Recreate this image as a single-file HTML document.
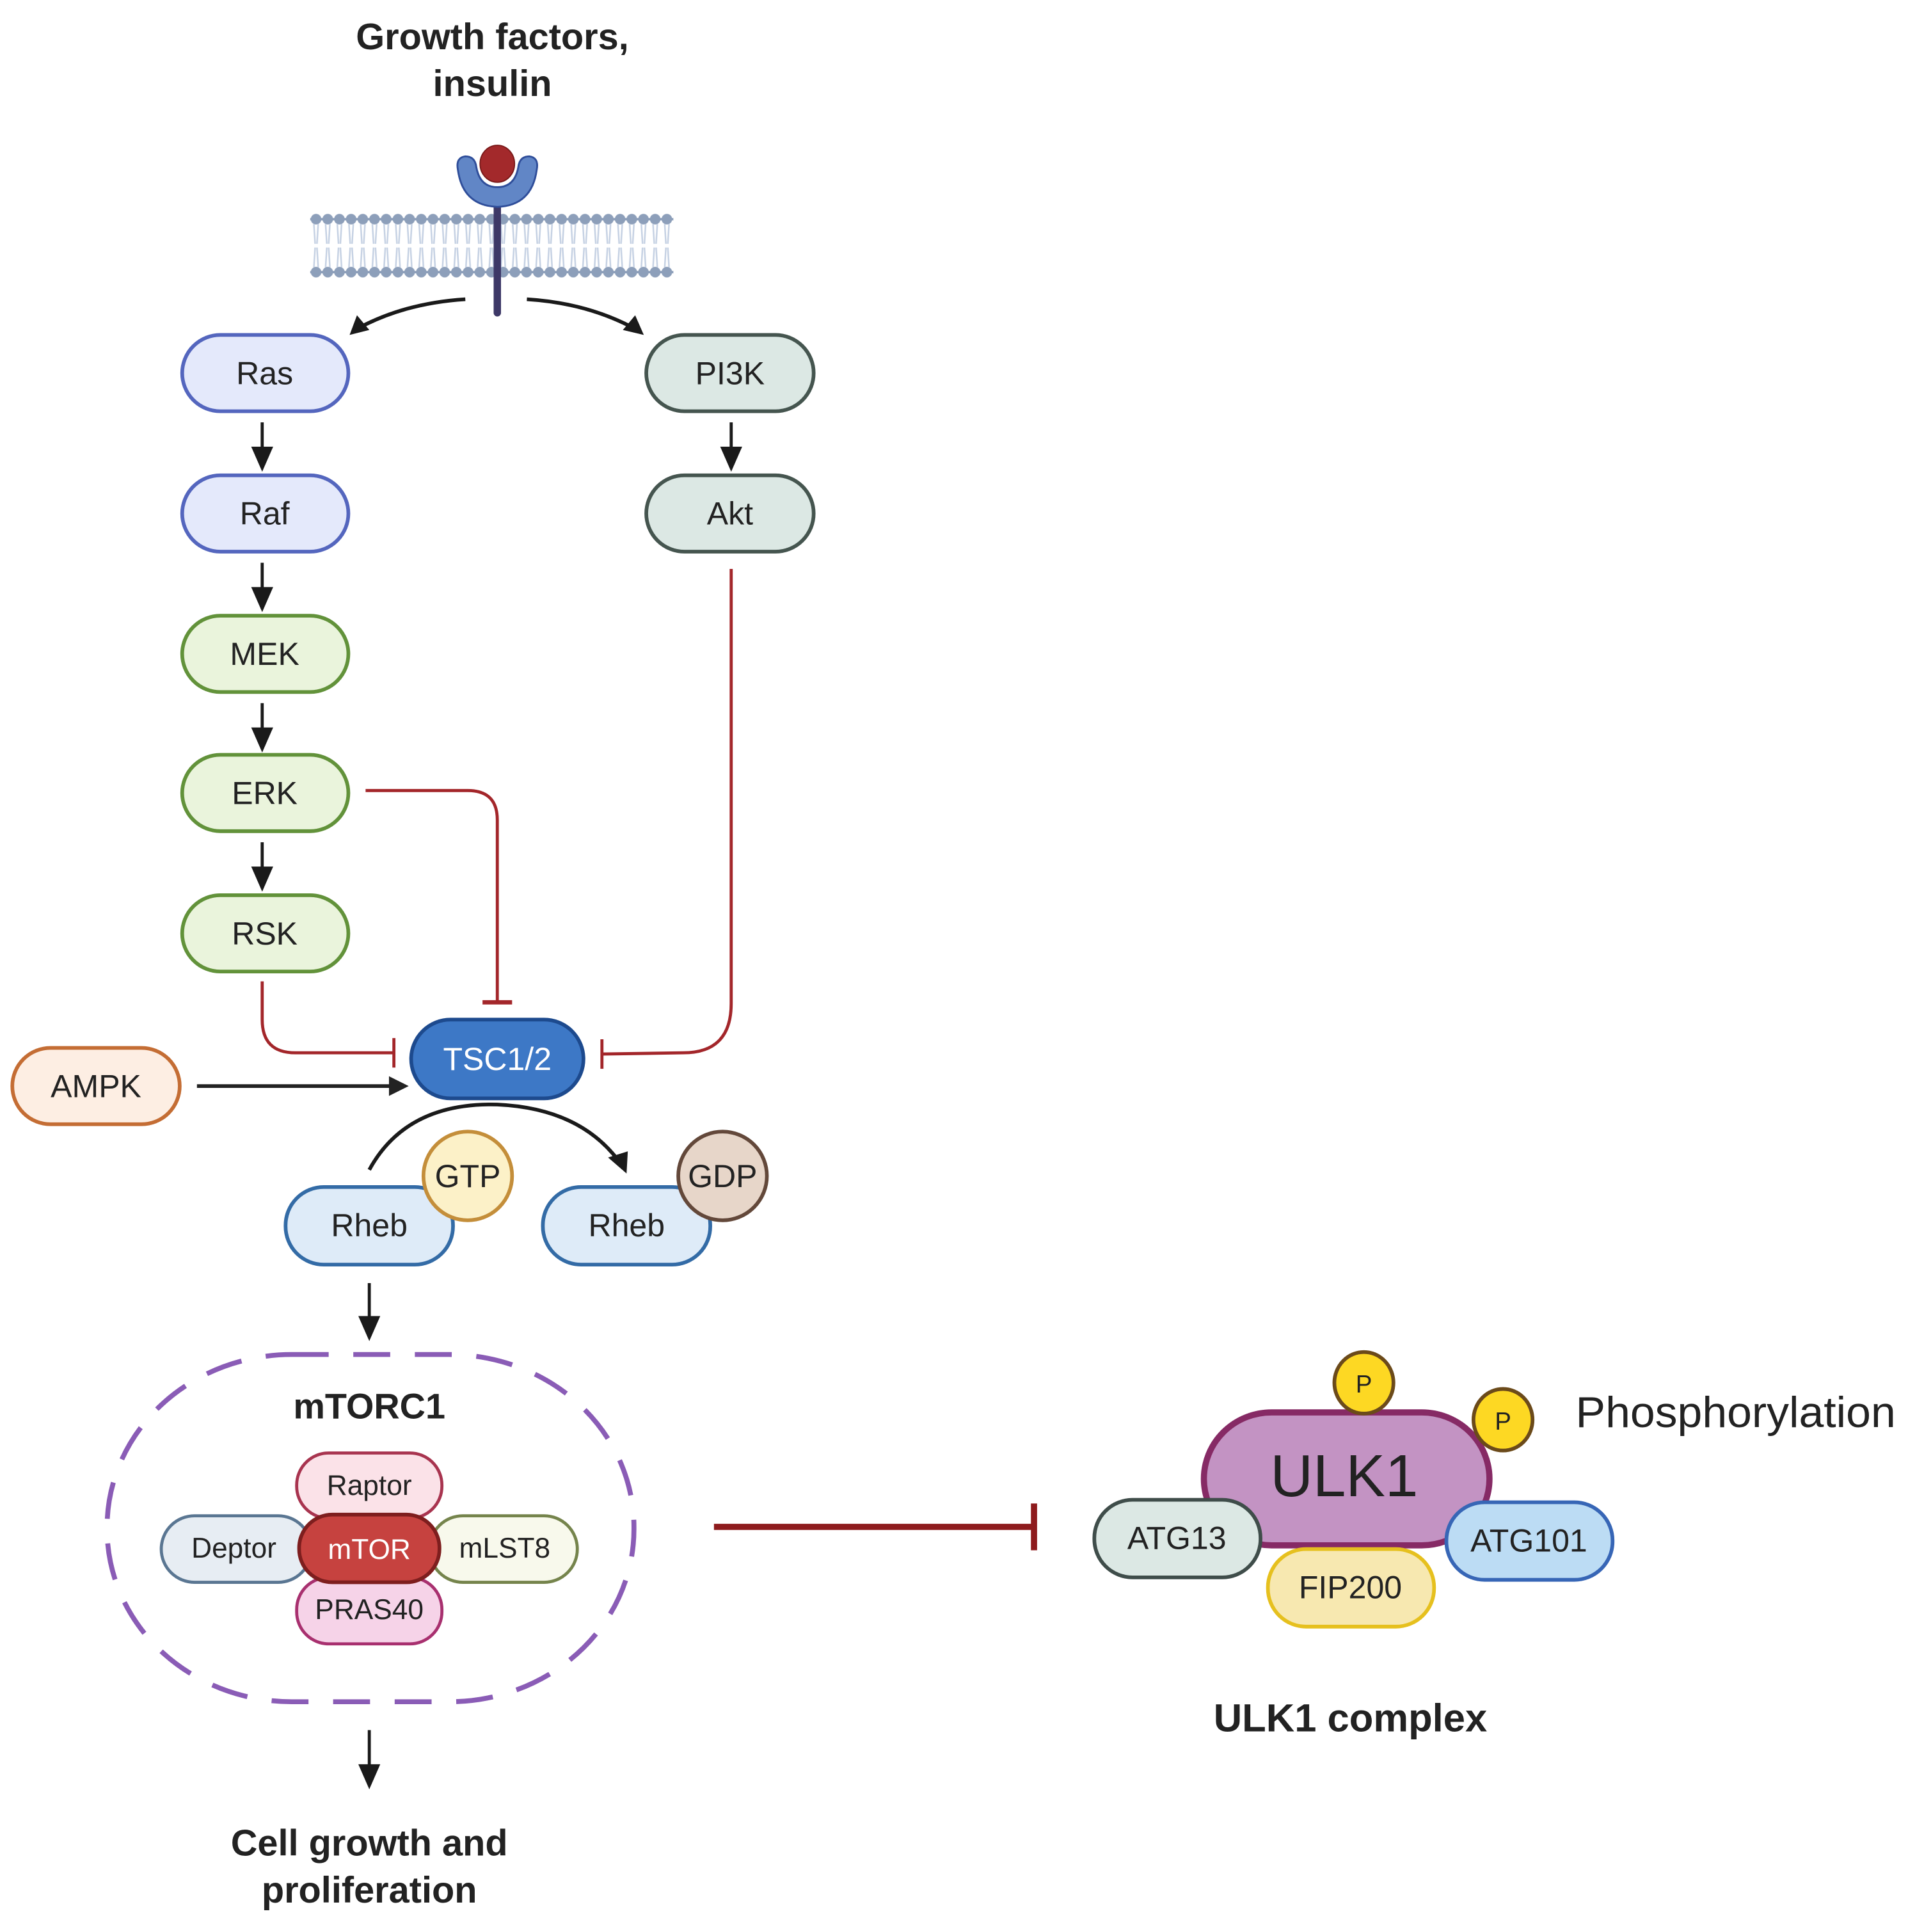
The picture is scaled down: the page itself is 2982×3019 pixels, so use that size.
<!DOCTYPE html>
<html><head><meta charset="utf-8"><style>
html,body{margin:0;padding:0;background:#fff;}
svg{display:block;}
text{font-family:"Liberation Sans",sans-serif;fill:#222;}
</style></head><body>
<svg width="2982" height="3019" viewBox="0 0 1550 1569" preserveAspectRatio="none" xmlns="http://www.w3.org/2000/svg">
<defs>
<pattern id="hd" x="252" y="0" width="9.5" height="400" patternUnits="userSpaceOnUse">
<circle cx="4.75" cy="178" r="4.3" fill="#8d9fba"/>
<circle cx="4.75" cy="221" r="4.3" fill="#8d9fba"/>
<path d="M3 182 L4 198 M6.5 182 L5.5 198 M3 217 L4 201 M6.5 217 L5.5 201" stroke="#c5d1e3" stroke-width="1.3"/>
</pattern>
</defs>

<text x="400" y="40" font-size="30" font-weight="bold" text-anchor="middle">Growth factors,</text>
<text x="400" y="78" font-size="30" font-weight="bold" text-anchor="middle">insulin</text>

<rect x="252" y="170" width="295" height="58" fill="url(#hd)"/>
<line x1="252" y1="178" x2="547" y2="178" stroke="#8d9fba" stroke-width="2"/>
<line x1="252" y1="221" x2="547" y2="221" stroke="#8d9fba" stroke-width="2"/>
<line x1="404" y1="160" x2="404" y2="254" stroke="#3d3867" stroke-width="6" stroke-linecap="round"/>
<path d="M372 138 Q370 128 378 127 Q386 127 387 136 Q390 152 404 152 Q418 152 421 136 Q422 127 430 127 Q438 128 436 138 Q432 167 404 168 Q376 167 372 138 Z" fill="#6186c6" stroke="#2f4e9a" stroke-width="1.5"/>
<ellipse cx="404" cy="133" rx="14" ry="15" fill="#a3292b" stroke="#7a1a1a" stroke-width="1"/>

<path d="M378 243 Q330 246 292 266" fill="none" stroke="#1a1a1a" stroke-width="3"/>
<polygon points="284,272 290,256 300,268" fill="#1a1a1a"/>
<path d="M428 243 Q476 246 514 266" fill="none" stroke="#1a1a1a" stroke-width="3"/>
<polygon points="523,272 506,268 516,256" fill="#1a1a1a"/>

<g stroke-width="3">
<rect x="148" y="272" width="135" height="62" rx="31" fill="#e4e9fb" stroke="#5466be"/>
<rect x="148" y="386" width="135" height="62" rx="31" fill="#e4e9fb" stroke="#5466be"/>
<rect x="148" y="500" width="135" height="62" rx="31" fill="#eaf4dc" stroke="#62923a"/>
<rect x="148" y="613" width="135" height="62" rx="31" fill="#eaf4dc" stroke="#62923a"/>
<rect x="148" y="727" width="135" height="62" rx="31" fill="#eaf4dc" stroke="#62923a"/>
<rect x="525" y="272" width="136" height="62" rx="31" fill="#dce8e4" stroke="#45554f"/>
<rect x="525" y="386" width="136" height="62" rx="31" fill="#dce8e4" stroke="#45554f"/>
</g>
<g font-size="26" text-anchor="middle">
<text x="215" y="312">Ras</text>
<text x="215" y="426">Raf</text>
<text x="215" y="540">MEK</text>
<text x="215" y="653">ERK</text>
<text x="215" y="767">RSK</text>
<text x="593" y="312">PI3K</text>
<text x="593" y="426">Akt</text>
</g>

<g stroke="#1a1a1a" stroke-width="2.5" fill="#1a1a1a">
<line x1="213" y1="343" x2="213" y2="366"/><polygon points="206,364 220,364 213,380"/>
<line x1="213" y1="457" x2="213" y2="480"/><polygon points="206,478 220,478 213,494"/>
<line x1="213" y1="571" x2="213" y2="594"/><polygon points="206,592 220,592 213,608"/>
<line x1="213" y1="684" x2="213" y2="707"/><polygon points="206,705 220,705 213,721"/>
<line x1="594" y1="343" x2="594" y2="366"/><polygon points="587,364 601,364 594,380"/>
<line x1="300" y1="1042" x2="300" y2="1072"/><polygon points="293,1070 307,1070 300,1086"/>
<line x1="300" y1="1405" x2="300" y2="1436"/><polygon points="293,1434 307,1434 300,1450"/>
</g>

<g fill="none" stroke="#a3262a" stroke-width="2.5">
<path d="M297 642 L380 642 Q404 642 404 666 L404 814"/>
<line x1="392" y1="814" x2="416" y2="814" stroke-width="3.5"/>
<path d="M213 797 L213 828 Q213 855 240 855 L320 855"/>
<line x1="320" y1="843" x2="320" y2="867"/>
<path d="M594 462 L594 815 Q594 855 555 855 L489 856"/>
<line x1="489" y1="844" x2="489" y2="868"/>
</g>

<rect x="334" y="828" width="140" height="64" rx="32" fill="#3d78c6" stroke="#1d4a8e" stroke-width="3"/>
<text x="404" y="869" font-size="26" text-anchor="middle" style="fill:#fff">TSC1/2</text>

<rect x="10" y="851" width="136" height="62" rx="31" fill="#fdeee3" stroke="#c46d34" stroke-width="3"/>
<text x="78" y="891" font-size="26" text-anchor="middle">AMPK</text>
<line x1="160" y1="882" x2="318" y2="882" stroke="#222" stroke-width="3"/>
<polygon points="316,874 332,882 316,890" fill="#222"/>

<path d="M300 950 Q330 895 404 897 Q470 900 502 942" fill="none" stroke="#1a1a1a" stroke-width="3"/>
<polygon points="494,940 510,935 509,953" fill="#1a1a1a"/>

<rect x="232" y="964" width="136" height="63" rx="31" fill="#deebf8" stroke="#336ba6" stroke-width="3"/>
<text x="300" y="1004" font-size="26" text-anchor="middle">Rheb</text>
<circle cx="380" cy="955" r="36" fill="#fcf1c8" stroke="#c48e3a" stroke-width="3"/>
<text x="380" y="964" font-size="26" text-anchor="middle">GTP</text>
<rect x="441" y="964" width="136" height="63" rx="31" fill="#deebf8" stroke="#336ba6" stroke-width="3"/>
<text x="509" y="1004" font-size="26" text-anchor="middle">Rheb</text>
<circle cx="587" cy="955" r="36" fill="#e7d6c9" stroke="#63483a" stroke-width="3"/>
<text x="587" y="964" font-size="26" text-anchor="middle">GDP</text>

<rect x="87" y="1100" width="428" height="282" rx="150" ry="140" fill="none" stroke="#8a5cb6" stroke-width="4" stroke-dasharray="30 20"/>
<text x="300" y="1152" font-size="29" font-weight="bold" text-anchor="middle">mTORC1</text>
<g stroke-width="2.5">
<rect x="241" y="1180" width="118" height="53" rx="26" fill="#fbe2e8" stroke="#a8344f"/>
<rect x="241" y="1281" width="118" height="54" rx="26" fill="#f6d3e8" stroke="#a8306f"/>
<rect x="131" y="1231" width="122" height="54" rx="27" fill="#e7edf3" stroke="#5a7692"/>
<rect x="349" y="1231" width="120" height="54" rx="27" fill="#f8f9ec" stroke="#75844c"/>
<rect x="243" y="1230" width="114" height="55" rx="27" fill="#c6423f" stroke="#7e1e1e" stroke-width="3"/>
</g>
<g font-size="23" text-anchor="middle">
<text x="300" y="1214">Raptor</text>
<text x="300" y="1315">PRAS40</text>
<text x="190" y="1265">Deptor</text>
<text x="410" y="1265">mLST8</text>
<text x="300" y="1266" style="fill:#fff">mTOR</text>
</g>

<text x="300" y="1507" font-size="30" font-weight="bold" text-anchor="middle">Cell growth and</text>
<text x="300" y="1545" font-size="30" font-weight="bold" text-anchor="middle">proliferation</text>

<line x1="580" y1="1240" x2="840" y2="1240" stroke="#8e1b1d" stroke-width="5"/>
<line x1="840" y1="1221" x2="840" y2="1259" stroke="#8e1b1d" stroke-width="5"/>

<rect x="978" y="1147" width="232" height="108" rx="55" fill="#c393c3" stroke="#862a65" stroke-width="5"/>
<text x="1092" y="1215" font-size="48" text-anchor="middle">ULK1</text>
<ellipse cx="1108" cy="1123" rx="24" ry="25" fill="#fdd823" stroke="#6b4a1a" stroke-width="3"/>
<text x="1108" y="1131" font-size="20" text-anchor="middle">P</text>
<ellipse cx="1221" cy="1153" rx="24" ry="25" fill="#fdd823" stroke="#6b4a1a" stroke-width="3"/>
<text x="1221" y="1161" font-size="20" text-anchor="middle">P</text>
<text x="1280" y="1159" font-size="35" textLength="260" lengthAdjust="spacingAndGlyphs">Phosphorylation</text>
<rect x="889" y="1218" width="135" height="63" rx="31" fill="#dce8e4" stroke="#3f4d4a" stroke-width="3"/>
<text x="956" y="1258" font-size="26" text-anchor="middle">ATG13</text>
<rect x="1175" y="1220" width="135" height="63" rx="31" fill="#bcdcf4" stroke="#3766b6" stroke-width="3"/>
<text x="1242" y="1260" font-size="26" text-anchor="middle">ATG101</text>
<rect x="1030" y="1258" width="135" height="63" rx="31" fill="#f7e8b0" stroke="#e6c01e" stroke-width="3"/>
<text x="1097" y="1298" font-size="26" text-anchor="middle">FIP200</text>
<text x="1097" y="1406" font-size="32" font-weight="bold" text-anchor="middle">ULK1 complex</text>
</svg>
</body></html>
